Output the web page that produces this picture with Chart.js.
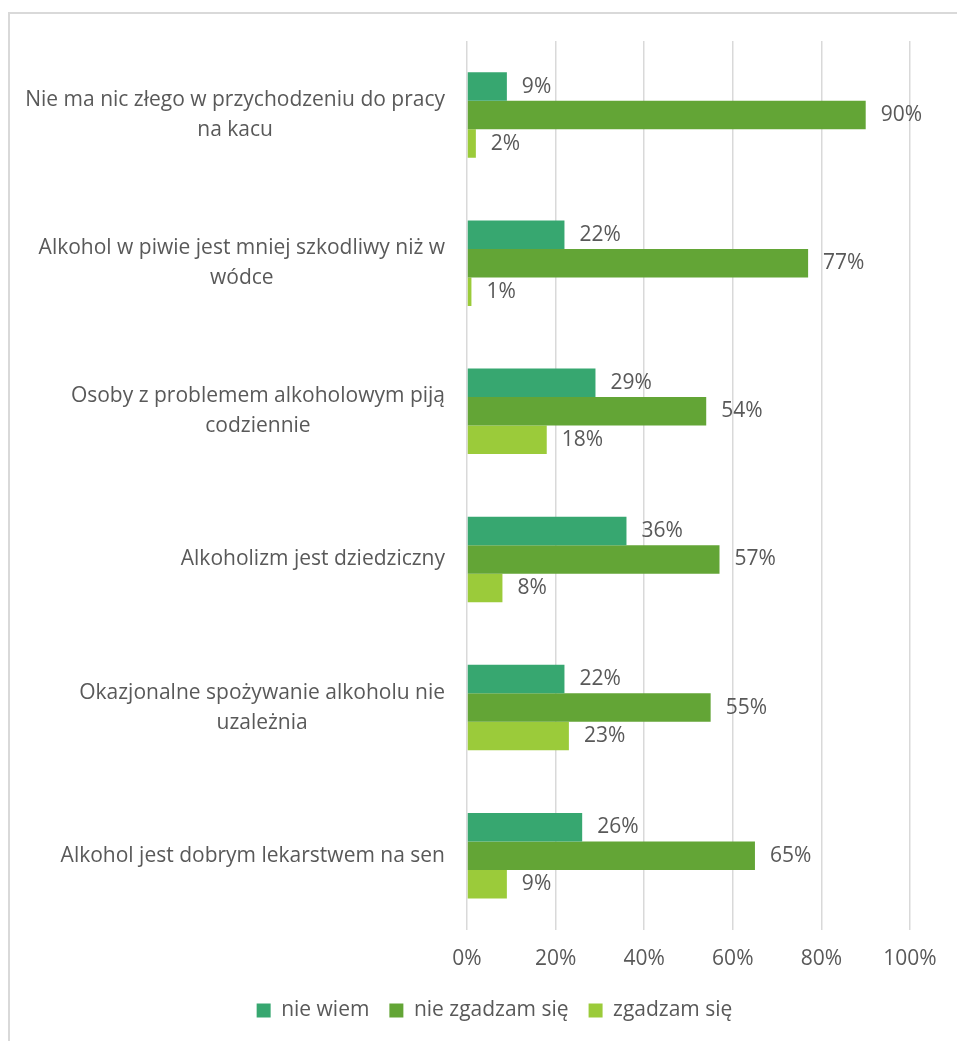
<!DOCTYPE html>
<html>
<head>
<meta charset="utf-8">
<script src="https://cdn.jsdelivr.net/npm/chart.js@4.4.1/dist/chart.umd.min.js"></script>
<style>
  html, body { margin: 0; padding: 0; background: #fff; }
  #frame { position: absolute; left: 8px; top: 12px; width: 960px; height: 1040px;
           border-left: 2px solid #d9d9d9; border-top: 2px solid #d9d9d9; }
  #wrap { position: absolute; left: 0; top: 0; width: 957px; height: 1041px; }
</style>
</head>
<body>
<div id="frame"></div>
<div id="wrap"><canvas id="chart"></canvas></div>
<script>
const categories = [
  ['Nie ma nic złego w przychodzeniu do pracy', 'na kacu'],
  ['Alkohol w piwie jest mniej szkodliwy niż w', 'wódce'],
  ['Osoby z problemem alkoholowym piją', 'codziennie'],
  ['Alkoholizm jest dziedziczny'],
  ['Okazjonalne spożywanie alkoholu nie', 'uzależnia'],
  ['Alkohol jest dobrym lekarstwem na sen']
];
const nieWiem = [9, 22, 29, 36, 22, 26];
const nieZgadzam = [90, 77, 54, 57, 55, 65];
const zgadzam = [2, 1, 18, 8, 23, 9];
const seriesNames = ['nie wiem', 'nie zgadzam się', 'zgadzam się'];
const seriesColors = ['#37a770', '#63a536', '#9bcb3a'];

const FONT = '"Open Sans", Lato, sans-serif';
const SIZE = 21;
const TEXT = '#595959';

// value labels at the end of each bar
const valueLabels = {
  id: 'valueLabels',
  afterDatasetsDraw(chart) {
    const ctx = chart.ctx;
    ctx.save();
    ctx.font = SIZE + 'px ' + FONT;
    ctx.fillStyle = TEXT;
    ctx.textAlign = 'left';
    ctx.textBaseline = 'middle';
    chart.data.datasets.forEach((ds, i) => {
      chart.getDatasetMeta(i).data.forEach((el, j) => {
        ctx.fillText(ds.data[j] + '%', el.x + 15, el.y);
      });
    });
    ctx.restore();
  }
};

// category labels: block right-aligned, lines centred within the block
const categoryLabels = {
  id: 'categoryLabels',
  afterDraw(chart) {
    const ctx = chart.ctx;
    const y = chart.scales.y;
    const right = chart.chartArea.left - 22;
    const lh = 30;
    ctx.save();
    ctx.font = SIZE + 'px ' + FONT;
    ctx.fillStyle = TEXT;
    ctx.textAlign = 'center';
    ctx.textBaseline = 'middle';
    categories.forEach((lines, i) => {
      const w = Math.max(...lines.map(l => ctx.measureText(l).width));
      const cx = right - w / 2;
      const cy = y.getPixelForValue(i);
      lines.forEach((l, k) => {
        ctx.fillText(l, cx, cy + (k - (lines.length - 1) / 2) * lh);
      });
    });
    ctx.restore();
  }
};

new Chart(document.getElementById('chart'), {
  type: 'bar',
  data: {
    labels: categories.map(c => c.join(' ')),
    datasets: [nieWiem, nieZgadzam, zgadzam].map((d, i) => ({
      label: seriesNames[i],
      data: d,
      backgroundColor: seriesColors[i],
      borderWidth: 0,
      categoryPercentage: 0.577,
      barPercentage: 1
    }))
  },
  options: {
    indexAxis: 'y',
    responsive: true,
    maintainAspectRatio: false,
    animation: false,
    layout: { padding: { left: 79, right: 47, top: 41, bottom: 10 } },
    plugins: {
      legend: {
        position: 'bottom',
        labels: {
          boxWidth: 14,
          boxHeight: 14,
          padding: 20,
          color: TEXT,
          font: { family: FONT, size: SIZE }
        }
      },
      tooltip: { enabled: false }
    },
    scales: {
      x: {
        min: 0,
        max: 100,
        ticks: {
          stepSize: 20,
          padding: 17,
          color: TEXT,
          font: { family: FONT, size: SIZE },
          callback: v => v + '%'
        },
        grid: { color: '#d9d9d9', lineWidth: 1.5, drawTicks: false },
        border: { display: false },
        afterFit: s => { s.height -= 9; }
      },
      y: {
        ticks: { display: false },
        grid: { display: false },
        border: { display: false },
        afterFit: s => { s.width = 388; }
      }
    }
  },
  plugins: [valueLabels, categoryLabels]
});
</script>
</body>
</html>
